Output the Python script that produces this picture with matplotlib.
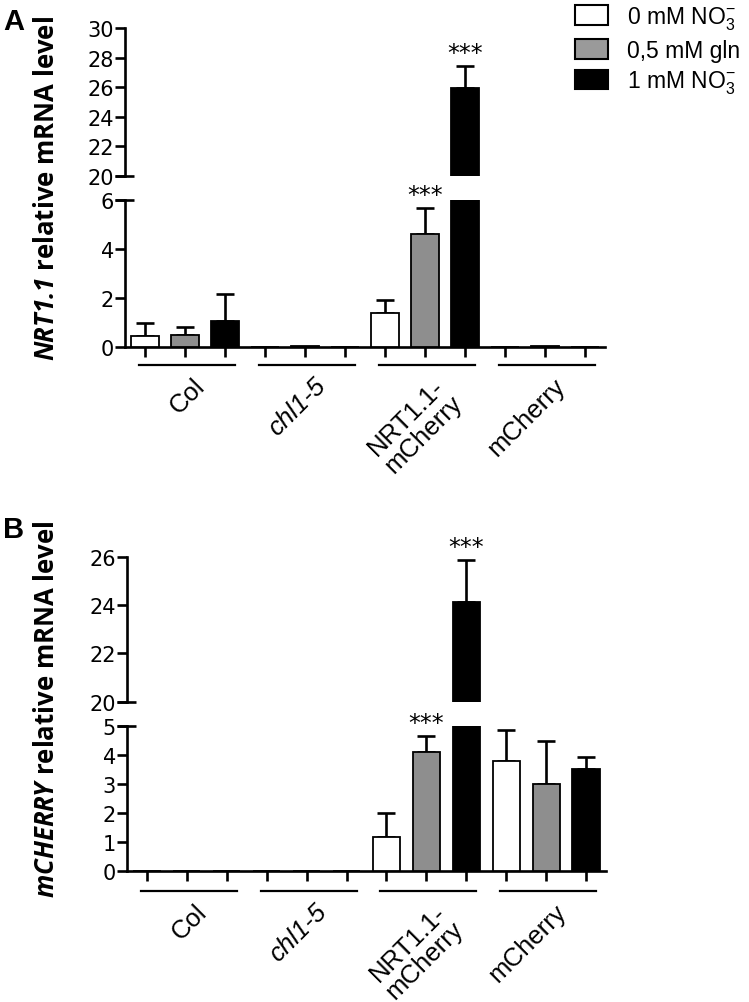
import matplotlib
matplotlib.use("Agg")
import matplotlib.pyplot as plt
import matplotlib.transforms as mtransforms
from matplotlib.patches import Patch
import numpy as np

# -----------------------------
# data
# -----------------------------
genotypes = ["Col", "chl1-5", "NRT1.1-\nmCherry", "mCherry"]
genotype_italic = [False, True, False, False]
treatments = ["0 mM NO$_3^{-}$", "0,5 mM gln", "1 mM NO$_3^{-}$"]

# panel A : NRT1.1 relative mRNA level (mean, upper SD)
nrt_0no3 = [0.45, 0.0, 1.38, 0.0]
nrt_0no3_err = [0.55, 0.0, 0.55, 0.0]
nrt_gln = [0.5, 0.03, 4.6, 0.03]
nrt_gln_err = [0.3, 0.0, 1.07, 0.0]
nrt_1no3 = [1.05, 0.0, 25.95, 0.0]
nrt_1no3_err = [1.1, 0.0, 1.45, 0.0]
nrt_stars = [(2, 1), (2, 2)]  # (genotype, treatment)

# panel B : mCHERRY relative mRNA level
mch_0no3 = [0.0, 0.0, 1.18, 3.8]
mch_0no3_err = [0.0, 0.0, 0.82, 1.06]
mch_gln = [0.0, 0.0, 4.11, 2.98]
mch_gln_err = [0.0, 0.0, 0.52, 1.51]
mch_1no3 = [0.0, 0.0, 24.13, 3.52]
mch_1no3_err = [0.0, 0.0, 1.73, 0.42]
mch_stars = [(2, 1), (2, 2)]

# -----------------------------
# style
# -----------------------------
plt.rcParams["mathtext.default"] = "regular"
plt.rcParams["mathtext.fontset"] = "custom"
plt.rcParams["mathtext.bfit"] = "Open Sans:italic:bold"
colors = ["white", "#8e8e8e", "black"]
lw = 1.9
W, H = 749, 1003

fig = plt.figure(figsize=(W / 100, H / 100), dpi=100)


def px_axes(x0, x1, ytop, ybot):
    return fig.add_axes([x0 / W, 1 - ybot / H, (x1 - x0) / W, (ybot - ytop) / H])


def style_axis(ax, top_part):
    for s in ["top", "right"]:
        ax.spines[s].set_visible(False)
    ax.spines["left"].set_linewidth(lw)
    ax.spines["bottom"].set_linewidth(lw)
    ax.tick_params(axis="y", direction="out", length=7, width=lw,
                   labelsize=15, pad=1)
    for t in ax.get_yticklabels():
        t.set_family("DejaVu Sans")
    ax.set_xlim(-0.5, 11.5)
    if top_part:
        ax.spines["bottom"].set_visible(False)
        ax.tick_params(axis="x", bottom=False, labelbottom=False)
        # break mark
        ax.plot([-0.021, 0.018], [0, 0], transform=ax.transAxes, color="black",
                lw=lw, clip_on=False, solid_capstyle="butt")
    else:
        ax.set_xticks(np.arange(12))
        ax.tick_params(axis="x", direction="out", length=7, width=lw,
                       labelbottom=False)
        ax.plot([-0.021, 0.018], [1, 1], transform=ax.transAxes, color="black",
                lw=lw, clip_on=False, solid_capstyle="butt")


def draw_bars(ax, means, errs):
    for j, (m, e) in enumerate(zip(means, errs)):
        pos = np.arange(4) * 3 + j
        ax.bar(pos, m, width=0.68, color=colors[j], edgecolor="black",
               linewidth=1.3, zorder=3)
        e = np.array(e)
        keep = e > 0
        ax.errorbar(pos[keep], np.array(m)[keep],
                    yerr=[np.zeros(keep.sum()), e[keep]], fmt="none",
                    ecolor="black", elinewidth=lw, capsize=6.5, capthick=lw,
                    zorder=2)


def draw_stars(ax, means, errs, stars):
    for g, t in stars:
        top = means[t][g] + errs[t][g]
        lo, hi = ax.get_ylim()
        if lo <= top <= hi:
            ax.annotate("***", (g * 3 + t, top), xytext=(0, 1),
                        textcoords="offset points", ha="center", va="bottom",
                        fontsize=17, family="DejaVu Sans")


def draw_groups(ax, line_off):
    trans = mtransforms.blended_transform_factory(ax.transData, ax.transAxes)
    h = ax.get_position().height * H
    y_line = -line_off / h
    for g, name in enumerate(genotypes):
        c = g * 3 + 1
        ax.plot([c - 1.15, c + 1.25], [y_line, y_line], transform=trans,
                color="black", lw=1.6, clip_on=False)
        ax.text(c + 0.2, y_line - 8 / h, name, transform=trans,
                rotation=45, rotation_mode="anchor", ha="right", va="top",
                multialignment="center", fontsize=18.5,
                family="Liberation Sans",
                style="italic" if genotype_italic[g] else "normal",
                linespacing=1.0)


def make_panel(x0, x1, up_box, low_box, up_lim, low_lim, up_ticks, low_ticks,
               means, errs, stars, line_off):
    ax_up = px_axes(x0, x1, *up_box)
    ax_lo = px_axes(x0, x1, *low_box)
    for ax in [ax_up, ax_lo]:
        draw_bars(ax, means, errs)
    ax_up.set_ylim(*up_lim)
    ax_lo.set_ylim(*low_lim)
    ax_up.set_yticks(up_ticks)
    ax_lo.set_yticks(low_ticks)
    style_axis(ax_up, True)
    style_axis(ax_lo, False)
    draw_stars(ax_up, means, errs, stars)
    draw_stars(ax_lo, means, errs, stars)
    draw_groups(ax_lo, line_off)
    return ax_up, ax_lo


# -----------------------------
# panel A
# -----------------------------
a_up, a_lo = make_panel(125, 605, (29, 177), (201, 348), (20, 30), (0, 6),
                        np.arange(20, 31, 2), np.arange(0, 7, 2),
                        [nrt_0no3, nrt_gln, nrt_1no3],
                        [nrt_0no3_err, nrt_gln_err, nrt_1no3_err], nrt_stars, 18)

# -----------------------------
# panel B
# -----------------------------
b_up, b_lo = make_panel(127, 606, (557.7, 702.7), (726.7, 872), (20, 26), (0, 5),
                        np.arange(20, 27, 2), np.arange(0, 6, 1),
                        [mch_0no3, mch_gln, mch_1no3],
                        [mch_0no3_err, mch_gln_err, mch_1no3_err], mch_stars, 20)

# -----------------------------
# labels
# -----------------------------
fig.text(47 / W, 1 - 188 / H,
         r"$\mathbfit{NRT1.1}$ relative mRNA level",
         rotation=90, ha="center", va="center", fontsize=18.5,
         fontweight="bold", family="Open Sans")
fig.text(47 / W, 1 - 709 / H,
         r"$\mathbfit{mCHERRY}$ relative mRNA level",
         rotation=90, ha="center", va="center", fontsize=18.5,
         fontweight="bold", family="Open Sans")
fig.text(3 / W, 1 - 22 / H, "A", fontsize=21, fontweight="bold",
         family="Liberation Sans", ha="left", va="center")
fig.text(3 / W, 1 - 530 / H, "B", fontsize=21, fontweight="bold",
         family="Liberation Sans", ha="left", va="center")

# -----------------------------
# legend
# -----------------------------
handles = [Patch(facecolor=c, edgecolor="black", linewidth=1.5) for c in
           ["white", "#9a9a9a", "black"]]
fig.legend(handles, treatments, loc="upper left",
           bbox_to_anchor=(566 / W, 1 - (-4) / H), frameon=False,
           prop={"family": "Liberation Sans", "size": 16.5},
           handlelength=1.45, handleheight=0.95, handletextpad=0.8,
           labelspacing=0.3, borderaxespad=0)

fig.savefig("out.png", dpi=100)
